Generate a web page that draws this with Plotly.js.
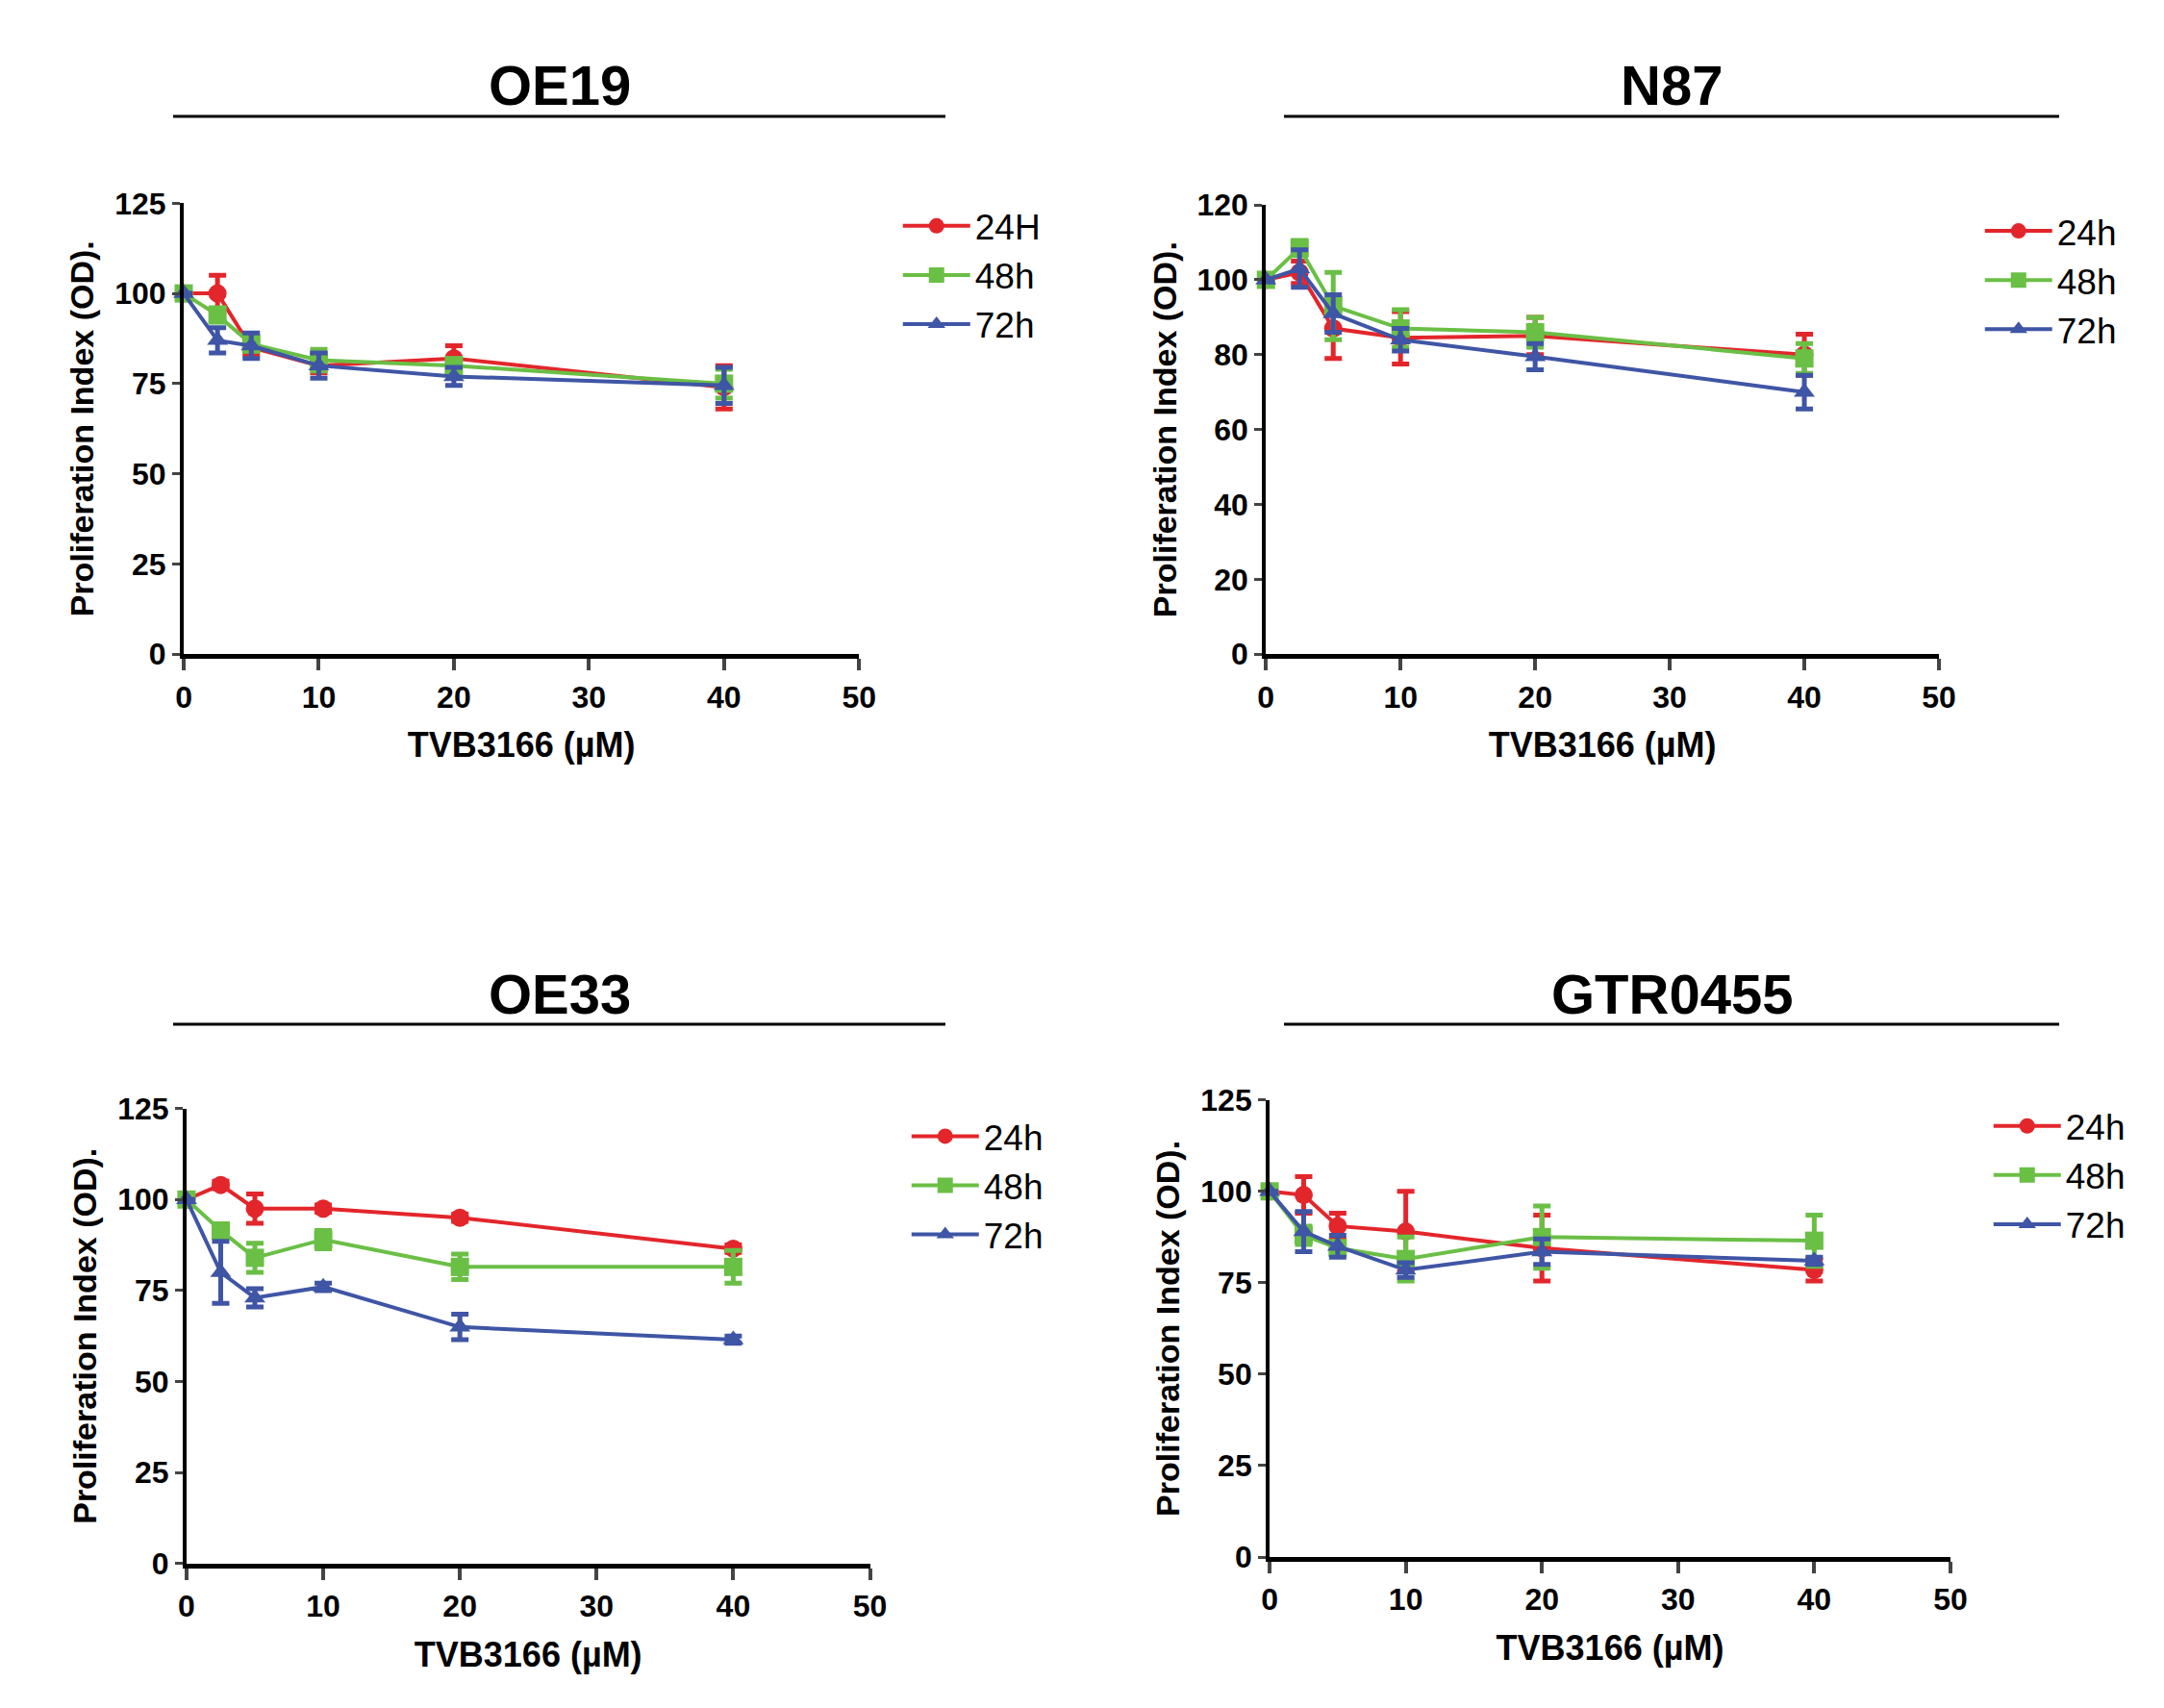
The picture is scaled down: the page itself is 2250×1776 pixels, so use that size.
<!DOCTYPE html>
<html>
<head>
<meta charset="utf-8">
<script src="https://cdn.plot.ly/plotly-3.0.1.min.js"></script>
<style>body{margin:0;background:#fff}</style>
</head>
<body>
<div id="chart" style="width:2250px;height:1776px"></div>
<script>
var dose = [0, 2.5, 5, 10, 20, 40];
var seriesNames = ['24h', '48h', '72h'];

// OE19
var oe19_24 = [100, 100, 85, 80, 82, 74];
var oe19_24e = [0, 5, 2, 2, 3.5, 6];
var oe19_48 = [100, 94, 86, 81.5, 80, 75];
var oe19_48e = [0, 2, 2, 3, 2, 4];
var oe19_72 = [100, 87, 85.5, 80, 77, 74.5];
var oe19_72e = [0, 3.5, 3.5, 3.5, 2.5, 5];
// N87
var n87_24 = [100, 102, 87, 84.5, 85, 80];
var n87_24e = [0, 3, 8, 7, 5, 5.5];
var n87_48 = [100, 108.5, 93, 87, 86, 79];
var n87_48e = [0, 2, 9, 5, 4, 4];
var n87_72 = [100, 103, 91, 84, 79.5, 70];
var n87_72e = [0, 5, 5, 3, 3.5, 4.5];
// OE33
var oe33_24 = [100, 104, 97.5, 97.5, 95, 86.5];
var oe33_24e = [0, 1, 4, 1, 1, 1];
var oe33_48 = [100, 91.5, 84, 89, 81.5, 81.5];
var oe33_48e = [0, 1.5, 4, 2.5, 3.5, 4.5];
var oe33_72 = [100, 80, 73, 76, 65, 61.5];
var oe33_72e = [0, 8.5, 2.5, 1, 3.5, 1];
// GTR0455
var gtr_24 = [100, 99, 90.5, 89, 84.5, 78.5];
var gtr_24e = [0, 5, 3.5, 11, 9, 3];
var gtr_48 = [100, 88, 84.5, 81.5, 87.5, 86.5];
var gtr_48e = [0, 2.5, 1.5, 6, 8.5, 7];
var gtr_72 = [100, 89, 85, 78.5, 83.5, 81];
var gtr_72e = [0, 5.5, 3, 2, 3.5, 1];

var panels = [
  {title: 'OE19', names: ['24H', '48h', '72h'], ys: [oe19_24, oe19_48, oe19_72], es: [oe19_24e, oe19_48e, oe19_72e], ymax: 125, dy: 25,
   xd: [0.0849, 0.397], yd: [0.617, 0.881], leg: [0.415, 0.885], line: [180, 983], ty: 89},
  {title: 'N87', names: seriesNames, ys: [n87_24, n87_48, n87_72], es: [n87_24e, n87_48e, n87_72e], ymax: 120, dy: 20,
   xd: [0.585, 0.896], yd: [0.617, 0.880], leg: [0.915, 0.882], line: [1335, 2141], ty: 89},
  {title: 'OE33', names: seriesNames, ys: [oe33_24, oe33_48, oe33_72], es: [oe33_24e, oe33_48e, oe33_72e], ymax: 125, dy: 25,
   xd: [0.0862, 0.402], yd: [0.0845, 0.351], leg: [0.419, 0.352], line: [180, 983], ty: 1033},
  {title: 'GTR0455', names: seriesNames, ys: [gtr_24, gtr_48, gtr_72], es: [gtr_24e, gtr_48e, gtr_72e], ymax: 125, dy: 25,
   xd: [0.5867, 0.9013], yd: [0.0884, 0.356], leg: [0.919, 0.358], line: [1335, 2141], ty: 1033}
];

var colors = ['#e3262b', '#6abf45', '#3f55a5'];
var symbols = ['circle', 'square', 'triangle-up'];
var data = [];
var layout = {
  width: 2250, height: 1776,
  margin: {l: 0, r: 0, t: 0, b: 0},
  paper_bgcolor: '#fff', plot_bgcolor: '#fff',
  font: {family: 'Liberation Sans, Arial, sans-serif', color: '#000'},
  annotations: [], shapes: []
};

panels.forEach(function (p, i) {
  var n = i + 1;
  var xa = 'x' + (n === 1 ? '' : n), ya = 'y' + (n === 1 ? '' : n);
  var legName = 'legend' + (n === 1 ? '' : n);
  p.ys.forEach(function (y, s) {
    data.push({
      x: dose, y: y, type: 'scatter', mode: 'lines+markers', name: p.names[s],
      xaxis: xa, yaxis: ya, legend: legName, cliponaxis: false,
      line: {color: colors[s], width: 4},
      marker: {color: colors[s], symbol: symbols[s], size: 19},
      error_y: {type: 'data', array: p.es[s], color: colors[s], thickness: 5, width: 9}
    });
  });
  var axx = {
    domain: p.xd, range: [0, 50], tickvals: [0, 10, 20, 30, 40, 50],
    showline: true, linewidth: 5, linecolor: '#000', ticks: 'outside', ticklen: 12, tickwidth: 4,
    showgrid: false, zeroline: false, anchor: ya,
    tickfont: {size: 32, family: 'Liberation Sans Narrow, Liberation Sans, sans-serif', weight: 'bold'},
    title: {text: 'TVB3166 (\u00b5M)', font: {size: 36, family: 'Liberation Sans Narrow, Liberation Sans, sans-serif', weight: 'bold'}, standoff: 22}
  };
  var axy = {
    domain: p.yd, range: [0, p.ymax], dtick: p.dy,
    showline: true, linewidth: 4, linecolor: '#000', ticks: 'outside', ticklen: 8, tickwidth: 3,
    showgrid: false, zeroline: false, anchor: xa,
    tickfont: {size: 32, family: 'Liberation Sans Narrow, Liberation Sans, sans-serif', weight: 'bold'},
    title: {text: 'Proliferation Index (OD).', font: {size: 34, weight: 'bold'}, standoff: 12}
  };
  layout['xaxis' + (n === 1 ? '' : n)] = axx;
  layout['yaxis' + (n === 1 ? '' : n)] = axy;
  layout[legName] = {x: p.leg[0], y: p.leg[1], xanchor: 'left', yanchor: 'top',
    font: {size: 37}, bgcolor: 'rgba(0,0,0,0)', tracegroupgap: 0, itemwidth: 70};
  layout.annotations.push({text: '<b>' + p.title + '</b>', xref: 'paper', yref: 'paper',
    x: (p.line[0] + p.line[1]) / 2 / 2250, y: 1 - p.ty / 1776, xanchor: 'center', yanchor: 'middle', showarrow: false,
    font: {size: 58, family: 'Liberation Sans, Arial, sans-serif'}});
  var ly = p.ty + 32;
  layout.shapes.push({type: 'line', xref: 'paper', yref: 'paper', x0: p.line[0] / 2250, x1: p.line[1] / 2250,
    y0: 1 - ly / 1776, y1: 1 - ly / 1776, line: {color: '#000', width: 3}});
});

Plotly.newPlot('chart', data, layout, {displayModeBar: false});
</script>
</body>
</html>
